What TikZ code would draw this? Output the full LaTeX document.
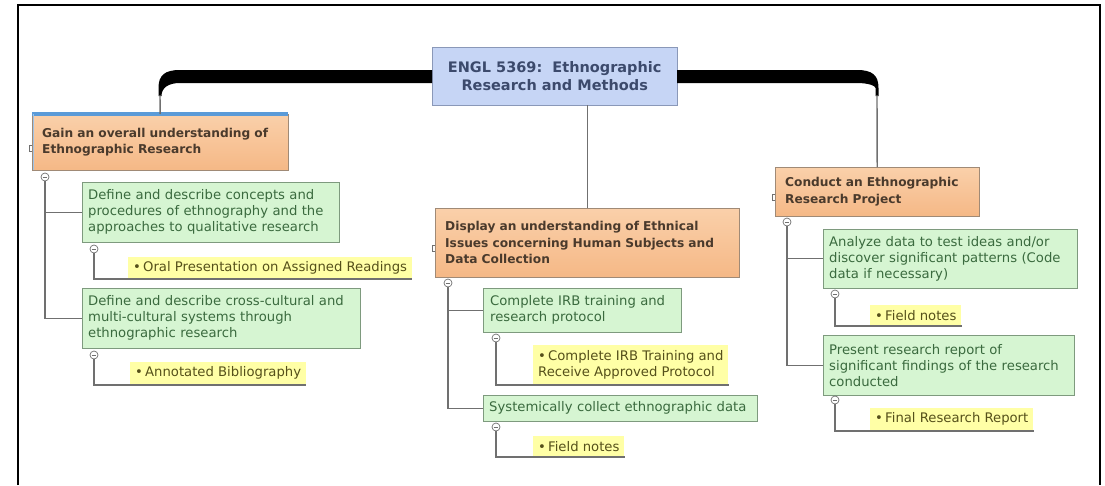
\documentclass[tikz,border=0pt]{standalone}
\usepackage{fontspec}
\setmainfont{DejaVu Sans}
\usetikzlibrary{calc}
\definecolor{rootfill}{HTML}{C6D5F5}
\definecolor{rootdraw}{HTML}{8A98B8}
\definecolor{roottext}{HTML}{3C4A6C}
\definecolor{otop}{HTML}{FAD0AA}
\definecolor{obot}{HTML}{F5B886}
\definecolor{odraw}{HTML}{A08A76}
\definecolor{otext}{HTML}{4A3A2C}
\definecolor{gfill}{HTML}{D6F5D2}
\definecolor{gdraw}{HTML}{7E9A7E}
\definecolor{gtext}{HTML}{3A6A3E}
\definecolor{yfill}{HTML}{FFFFA6}
\definecolor{ytext}{HTML}{55501A}
\definecolor{conn}{HTML}{707070}
\definecolor{selblue}{HTML}{5B9BD8}
\begin{document}
\begin{tikzpicture}[x=1pt,y=-1pt]
\useasboundingbox (0,0) rectangle (1105,485);
\tikzset{
 rootbox/.style={draw=rootdraw, fill=rootfill, text=roottext, font=\bfseries\fontsize{14.5}{18.5}\selectfont, align=center, inner sep=0, anchor=north west},
 orbox/.style={draw=odraw, top color=otop, bottom color=obot, text=otext, font=\bfseries\fontsize{12.2}{16.5}\selectfont, align=left, inner xsep=10, inner ysep=0, anchor=north west},
 grbox/.style={draw=gdraw, fill=gfill, text=gtext, font=\fontsize{13.2}{16}\selectfont, align=left, inner xsep=6, inner ysep=0, anchor=north west},
 leaf/.style={fill=yfill, text=ytext, font=\fontsize{13.2}{16.5}\selectfont, align=left, inner xsep=5, inner ysep=0, anchor=south west},
 mk/.style={circle, draw=conn, fill=white, minimum size=8, inner sep=0, line width=0.7,
   path picture={\draw[conn, line width=0.7] ([xshift=-2.3]path picture bounding box.center) -- ([xshift=2.3]path picture bounding box.center);}},
 link/.style={draw=conn, line width=1.4},
 tab/.style={draw=conn, line width=0.7},
}
% frame
\draw[line width=2] (18,485) -- (18,5) -- (1100,5) -- (1100,485);

% nodes
\node[rootbox, minimum width=245, minimum height=58] (root) at (432,47) {ENGL 5369:\ \ Ethnographic\\Research and Methods};

\node[orbox, text width=236pt, minimum height=56] (gain) at (32,114) {Gain an overall understanding of\\Ethnographic Research};
\node[grbox, text width=245pt, minimum height=60] (g1) at (82,182) {Define and describe concepts and\\procedures of ethnography and the\\approaches to qualitative research};
\node[grbox, text width=266pt, minimum height=60] (g2) at (82,288) {Define and describe cross-cultural and\\multi-cultural systems through\\ethnographic research};

\node[orbox, text width=284pt, minimum height=69] (disp) at (435,208) {Display an understanding of Ethnical\\Issues concerning Human Subjects and\\Data Collection};
\node[grbox, inner xsep=7, text width=184pt, minimum height=44] (ds1) at (483,288) {Complete IRB training and\\research protocol};
\node[grbox, text width=262pt, minimum height=26] (ds2) at (483,395) {Systemically collect ethnographic data};

\node[orbox, text width=184pt, minimum height=49] (cond) at (775,167) {Conduct an Ethnographic\\Research Project};
\node[grbox, text width=242pt, minimum height=59] (c1) at (823,229) {Analyze data to test ideas and/or\\discover significant patterns (Code\\data if necessary)};
\node[grbox, text width=239pt, minimum height=60] (c2) at (823,335) {Present research report of\\significant findings of the research\\conducted};

\node[leaf, minimum height=22] (l1) at (128,279) {•\,Oral Presentation on Assigned Readings};
\node[leaf, minimum height=23] (l2) at (130,385) {•\,Annotated Bibliography};
\node[leaf, minimum height=40] (l3) at (533,385) {•\,Complete IRB Training and\\Receive Approved Protocol};
\node[leaf, minimum height=21] (l4) at (533,457) {•\,Field notes};
\node[leaf, minimum height=21] (l5) at (870,326) {•\,Field notes};
\node[leaf, minimum height=23] (l6) at (870,431) {•\,Final Research Report};

% selection highlight on gain
\draw[selblue, line width=3.5] (gain.north west) -- (gain.north east);
\draw[selblue!60, line width=1] ([xshift=1]gain.north west) -- ([xshift=1]gain.south west);

% thick main bar
\fill[black] (158.5,96) -- (158.5,88) .. controls (158.5,75) and (165,70) .. (180,70) -- (432,70) -- (432,83) -- (180,83) .. controls (168,83) and (161.5,88) .. (161.5,96) -- cycle;
\fill[black] (677,70) -- (857,70) .. controls (872,70) and (878.5,75) .. (878.5,88) -- (878.5,96) -- (875.5,96) -- (875.5,88) .. controls (875.5,86) and (869,83) .. (857,83) -- (677,83) -- cycle;
\coordinate (lk) at (160,95);
\coordinate (rk) at (877,95);
\draw[link] (lk) -- (gain.north);
\draw[link] (rk) -- (cond.north);
\draw[link] (disp.north) -- (disp.north |- root.south);

% markers
\node[mk] (gm) at (45,177) {};
\node[mk] (m1) at (94,249) {};
\node[mk] (m2) at (94,355) {};
\node[mk] (dm) at (448,283) {};
\node[mk] (md1) at (496,338) {};
\node[mk] (md2) at (496,427) {};
\node[mk] (cm) at (787,222) {};
\node[mk] (mc1) at (835,294) {};
\node[mk] (mc2) at (835,400) {};

% connectors
\draw[link] (gm) |- (g1.west);
\draw[link] (gm) |- (g2.west);
\draw[link] (m1) |- (l1.south east);
\draw[link] (m2) |- (l2.south east);
\draw[link] (dm) |- (ds1.west);
\draw[link] (dm) |- (ds2.west);
\draw[link] (md1) |- (l3.south east);
\draw[link] (md2) |- (l4.south east);
\draw[link] (cm) |- (c1.west);
\draw[link] (cm) |- (c2.west);
\draw[link] (mc1) |- (l5.south east);
\draw[link] (mc2) |- (l6.south east);

% small side tabs
\draw[tab] ([yshift=-3]gain.west) -- ++(-3,0) -- ++(0,6) -- ++(3,0);
\draw[tab] ([yshift=-3]disp.west) -- ++(-3,0) -- ++(0,6) -- ++(3,0);
\draw[tab] ([yshift=-3]cond.west) -- ++(-3,0) -- ++(0,6) -- ++(3,0);
\end{tikzpicture}
\end{document}
